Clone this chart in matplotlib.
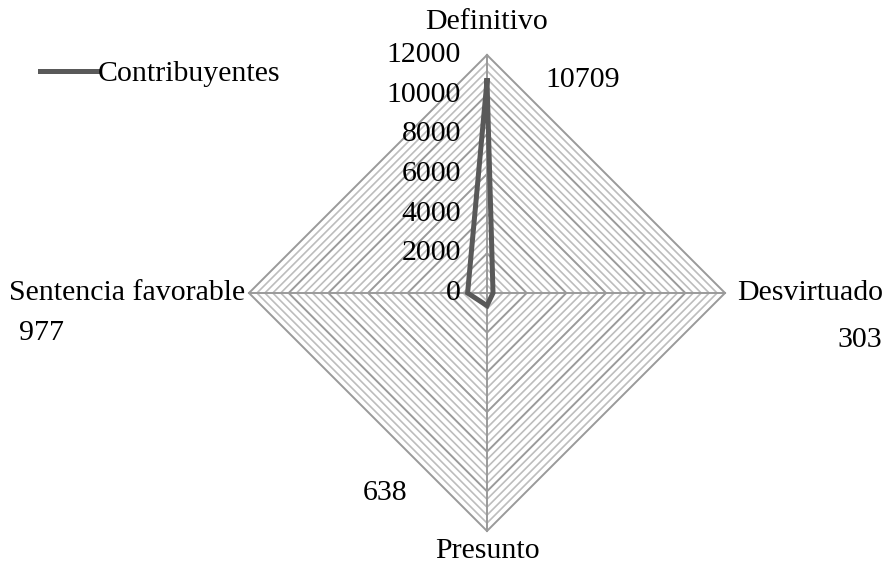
import numpy as np
import matplotlib.pyplot as plt

categories = ['Definitivo', 'Desvirtuado', 'Presunto', 'Sentencia favorable']
contribuyentes = [10709, 303, 638, 977]
value_labels = ['10709', '303', '638', '977']
major_ticks = [0, 2000, 4000, 6000, 8000, 10000, 12000]
minor_step = 400
r_max = 12000

plt.rcParams['font.family'] = ['Liberation Serif', 'DejaVu Serif']
plt.rcParams['font.size'] = 21.5

W, H = 883, 568
cx, cy, rad_px = 487, 293, 238
scale = r_max / rad_px

def px(x, y):
    # pixel position -> data coordinates
    return (x - cx) * scale, (cy - y) * scale

fig = plt.figure(figsize=(W / 100, H / 100), dpi=100)
ax = fig.add_axes([0, 0, 1, 1])
ax.set_xlim(px(0, 0)[0], px(W, 0)[0])
ax.set_ylim(px(0, H)[1], px(0, 0)[1])
ax.axis('off')

n = len(categories)
angles = np.arange(n) * 2 * np.pi / n   # clockwise from the top

def to_xy(r, a):
    return r * np.sin(a), r * np.cos(a)

# diamond gridlines: light minor rings, darker major rings
closed = np.append(angles, angles[0])
for r in np.arange(minor_step, r_max + 1, minor_step):
    is_major = r % 2000 == 0
    x, y = to_xy(r, closed)
    ax.plot(x, y, color='#9a9a9a' if is_major else '#bdbdbd',
            lw=1.4 if is_major else 1.2, zorder=1, solid_joinstyle='miter')

# spokes
for a in angles:
    x, y = to_xy(np.array([0, r_max]), a)
    ax.plot(x, y, color='#9a9a9a', lw=1.4, zorder=2)

# series
vals = np.append(contribuyentes, contribuyentes[0])
x, y = to_xy(vals, closed)
ax.plot(x, y, color='#595959', lw=3.6, zorder=3, solid_joinstyle='miter',
        label='Contribuyentes')

# radial tick labels on the top spoke
for t in major_ticks:
    ax.text(px(461, 0)[0], t, f'{t}', ha='right', va='center')

# category labels
ax.text(*px(487, 22), categories[0], ha='center', va='center')
ax.text(*px(737, 293), categories[1], ha='left', va='center')
ax.text(*px(487, 551), categories[2], ha='center', va='center')
ax.text(*px(245, 293), categories[3], ha='right', va='center')

# data labels
for (lx, ly), lab in zip([(583, 80), (860, 340), (385, 493), (42, 333)], value_labels):
    ax.text(*px(lx, ly), lab, ha='center', va='center')

ax.legend(loc='center left', bbox_to_anchor=(40 / W, 1 - 74 / H), frameon=False,
          handlelength=1.9, handletextpad=0.05, borderaxespad=0, borderpad=0)

fig.savefig('out.png', dpi=100)
